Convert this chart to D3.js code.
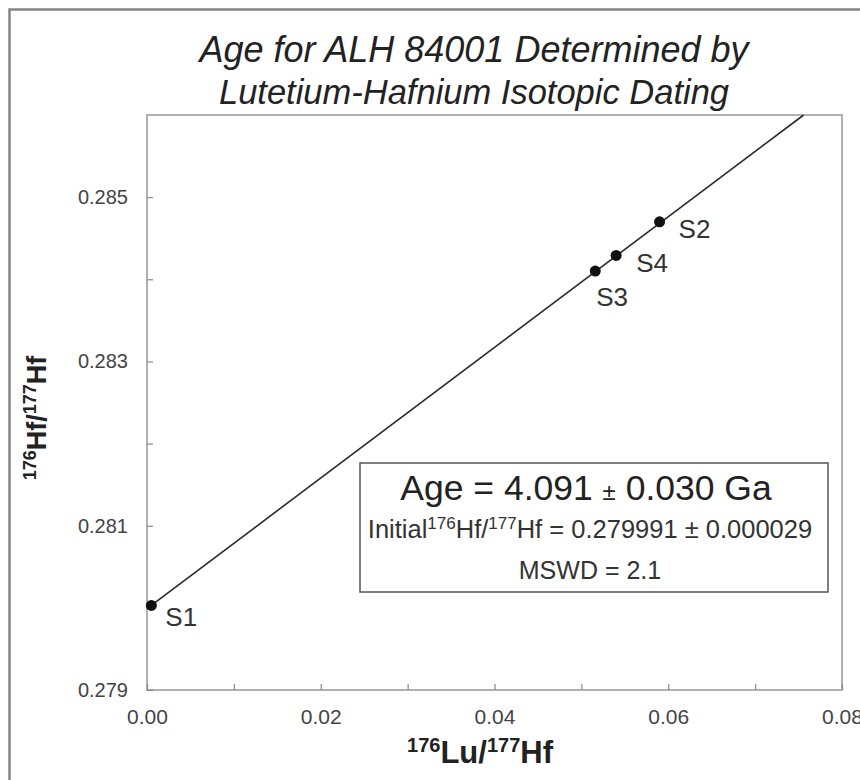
<!DOCTYPE html>
<html>
<head>
<meta charset="utf-8">
<script src="https://cdn.jsdelivr.net/npm/d3@7"></script>
<style>
  body { margin: 0; background: #fff; }
  svg { display: block; font-family: "Liberation Sans", Arial, sans-serif; }
</style>
</head>
<body>
<svg id="chart"></svg>
<script>
// sample points
const samples = ["S1", "S2", "S3", "S4"];
const luHf = [0.0005, 0.0590, 0.0516, 0.0540];   // 176Lu/177Hf
const hfHf = [0.28003, 0.28470, 0.28410, 0.28429]; // 176Hf/177Hf

// isochron fit
const isoIntercept = 0.279991;
const isoSlope = 0.0795;

const xTickValues = [0, 0.01, 0.02, 0.03, 0.04, 0.05, 0.06, 0.07, 0.08];
const xTickLabels = ["0.00", "", "0.02", "", "0.04", "", "0.06", "", "0.08"];
const yTickValues = [0.279, 0.280, 0.281, 0.282, 0.283, 0.284, 0.285];
const yTickLabels = ["0.279", "", "0.281", "", "0.283", "", "0.285"];

const width = 860, height = 780;
const margin = {top: 115, right: 18, bottom: 90, left: 147};

const svg = d3.select("#chart")
    .attr("width", width)
    .attr("height", height)
    .attr("viewBox", [0, 0, width, height]);

// outer frame (runs off the right and bottom edges)
svg.append("rect")
    .attr("x", 9.5).attr("y", 9.5)
    .attr("width", 900).attr("height", 900)
    .attr("fill", "none")
    .attr("stroke", "#858585")
    .attr("stroke-width", 2.5);

const x = d3.scaleLinear([0, 0.08], [margin.left, width - margin.right]);
const y = d3.scaleLinear([0.279, 0.286], [height - margin.bottom, margin.top]);

// title
const title = svg.append("text")
    .attr("text-anchor", "middle")
    .attr("font-style", "italic")
    .attr("fill", "#222");
title.append("tspan").attr("x", 474).attr("y", 62).attr("font-size", 36)
    .text("Age for ALH 84001 Determined by");
title.append("tspan").attr("x", 474).attr("y", 104).attr("font-size", 34.5)
    .text("Lutetium-Hafnium Isotopic Dating");

// plot frame
svg.append("rect")
    .attr("x", x(0)).attr("y", y(0.286))
    .attr("width", x(0.08) - x(0))
    .attr("height", y(0.279) - y(0.286))
    .attr("fill", "none")
    .attr("stroke", "#a8a8a8")
    .attr("stroke-width", 1.8);

// axes, ticks pointing inward
const xAxis = svg.append("g")
    .attr("transform", `translate(0, ${y(0.279)})`)
    .call(d3.axisBottom(x)
        .tickValues(xTickValues)
        .tickFormat((d, i) => xTickLabels[i])
        .tickSize(-6)
        .tickPadding(19));

const yAxis = svg.append("g")
    .attr("transform", `translate(${x(0)}, 0)`)
    .call(d3.axisLeft(y)
        .tickValues(yTickValues)
        .tickFormat((d, i) => yTickLabels[i])
        .tickSize(-6)
        .tickPadding(19));

[xAxis, yAxis].forEach(g => {
    g.select(".domain").remove();
    g.selectAll(".tick line").attr("stroke", "#8a8a8a").attr("stroke-width", 1.2);
    g.selectAll(".tick text")
        .attr("font-size", 20)
        .attr("font-family", "Liberation Sans, Arial, sans-serif")
        .attr("fill", "#444");
});
xAxis.selectAll(".tick text").attr("font-size", 21);

// isochron line, clipped at the top of the plot
const xEnd = (0.286 - isoIntercept) / isoSlope;
svg.append("line")
    .attr("x1", x(0)).attr("y1", y(isoIntercept))
    .attr("x2", x(xEnd)).attr("y2", y(isoIntercept + isoSlope * xEnd))
    .attr("stroke", "#2a2a2a")
    .attr("stroke-width", 1.6);

// points and labels
const points = samples.map((s, i) => ({name: s, x: luHf[i], y: hfHf[i]}));
const labelOffset = {S1: [14, 21], S2: [19, 16], S3: [1, 35], S4: [20, 17]};

svg.append("g").selectAll("circle")
    .data(points)
    .join("circle")
    .attr("cx", d => x(d.x))
    .attr("cy", d => y(d.y))
    .attr("r", 5.5)
    .attr("fill", "#111");

svg.append("g").selectAll("text")
    .data(points)
    .join("text")
    .attr("x", d => x(d.x) + labelOffset[d.name][0])
    .attr("y", d => y(d.y) + labelOffset[d.name][1])
    .attr("font-size", 26)
    .attr("fill", "#333")
    .text(d => d.name);

// annotation box
const box = {x: 360, y: 463, w: 468, h: 129};
svg.append("rect")
    .attr("x", box.x).attr("y", box.y)
    .attr("width", box.w).attr("height", box.h)
    .attr("fill", "#fff")
    .attr("stroke", "#555")
    .attr("stroke-width", 1.5);

const cx = 590;
const age = svg.append("text")
    .attr("x", 586).attr("y", 500)
    .attr("text-anchor", "middle")
    .attr("font-size", 35.5)
    .attr("fill", "#222");
age.append("tspan").text("Age = 4.091 ");
age.append("tspan").attr("font-size", 24).text("±");
age.append("tspan").text(" 0.030 Ga");

const initial = svg.append("text")
    .attr("x", cx).attr("y", 538)
    .attr("text-anchor", "middle")
    .attr("font-size", 25.5)
    .attr("fill", "#333");
initial.append("tspan").text("Initial");
initial.append("tspan").attr("font-size", 17).attr("dy", -9).text("176");
initial.append("tspan").attr("dy", 9).text("Hf/");
initial.append("tspan").attr("font-size", 17).attr("dy", -9).text("177");
initial.append("tspan").attr("dy", 9).text("Hf = 0.279991 ± 0.000029");

svg.append("text")
    .attr("x", cx).attr("y", 579)
    .attr("text-anchor", "middle")
    .attr("font-size", 25)
    .attr("fill", "#333")
    .text("MSWD = 2.1");

// axis titles
const xTitle = svg.append("text")
    .attr("x", 480).attr("y", 763)
    .attr("text-anchor", "middle")
    .attr("font-weight", "bold")
    .attr("font-size", 31)
    .attr("fill", "#222");
xTitle.append("tspan").attr("font-size", 20).attr("dy", -11).text("176");
xTitle.append("tspan").attr("dy", 11).text("Lu/");
xTitle.append("tspan").attr("font-size", 20).attr("dy", -11).text("177");
xTitle.append("tspan").attr("dy", 11).text("Hf");

const yTitle = svg.append("text")
    .attr("transform", "translate(46, 418) rotate(-90)")
    .attr("text-anchor", "middle")
    .attr("font-weight", "bold")
    .attr("font-size", 27)
    .attr("fill", "#222");
yTitle.append("tspan").attr("font-size", 18).attr("dy", -10).text("176");
yTitle.append("tspan").attr("dy", 10).text("Hf/");
yTitle.append("tspan").attr("font-size", 18).attr("dy", -10).text("177");
yTitle.append("tspan").attr("dy", 10).text("Hf");
</script>
</body>
</html>
